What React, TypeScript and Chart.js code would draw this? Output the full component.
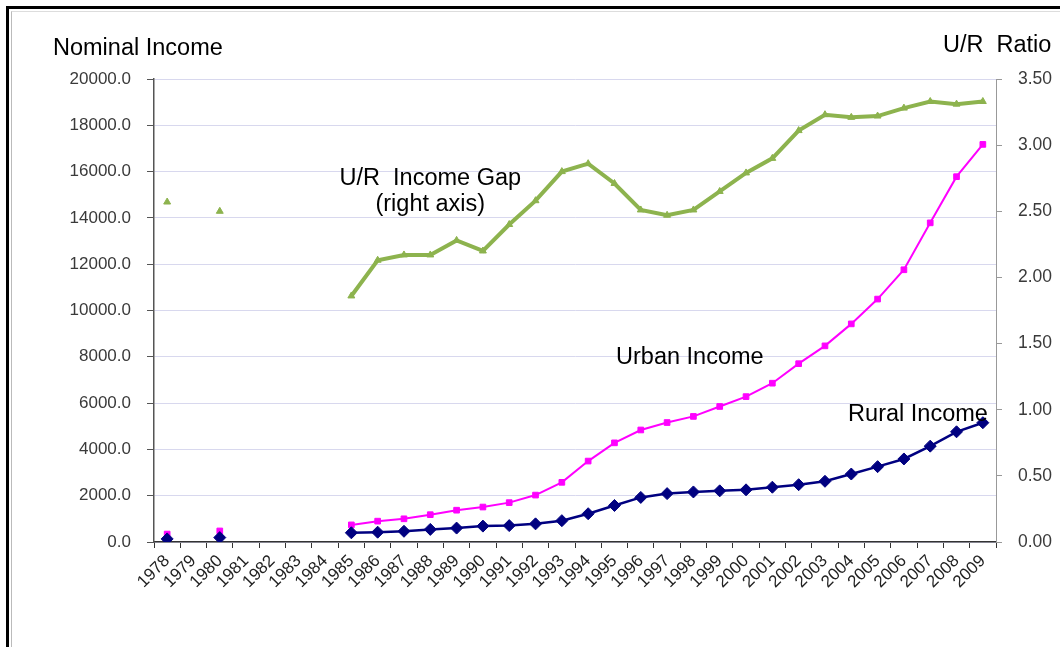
import React, { useEffect, useRef } from "react";
import { Chart, registerables } from "chart.js";

Chart.register(...registerables);

const years = [
  "1978", "1979", "1980", "1981", "1982", "1983", "1984", "1985", "1986", "1987", "1988",
  "1989", "1990", "1991", "1992", "1993", "1994", "1995", "1996", "1997", "1998", "1999",
  "2000", "2001", "2002", "2003", "2004", "2005", "2006", "2007", "2008", "2009",
];

const ruralIncome: (number | null)[] = [
  133.6, null, 191.3, null, null, null, null, 397.6, 423.8, 462.6, 544.9,
  601.5, 686.3, 708.6, 784.0, 921.6, 1221.0, 1577.7, 1926.1, 2090.1, 2162.0, 2210.3,
  2253.4, 2366.4, 2475.6, 2622.2, 2936.4, 3254.9, 3587.0, 4140.4, 4760.6, 5153.2,
];

const urbanIncome: (number | null)[] = [
  343.4, null, 477.6, null, null, null, null, 739.1, 900.9, 1002.1, 1180.2,
  1373.9, 1510.2, 1700.6, 2026.6, 2577.4, 3496.2, 4283.0, 4838.9, 5160.3, 5425.1, 5854.0,
  6280.0, 6859.6, 7702.8, 8472.2, 9421.6, 10493.0, 11759.5, 13785.8, 15780.8, 17174.7,
];

const urRatio: (number | null)[] = [
  2.57, null, 2.5, null, null, null, null, 1.86, 2.13, 2.17, 2.17,
  2.28, 2.2, 2.4, 2.58, 2.8, 2.86, 2.71, 2.51, 2.47, 2.51, 2.65,
  2.79, 2.9, 3.11, 3.23, 3.21, 3.22, 3.28, 3.33, 3.31, 3.33,
];

const leftTitle = "Nominal Income";
const rightTitle = "U/R  Ratio";

// annotation labels anchored in data space: text, category index, left-axis value, align
const annotationTexts: string[] = ["U/R  Income Gap", "(right axis)", "Urban Income", "Rural Income"];
const annotationIndex: number[] = [10, 10, 17.06, 25.88];
const annotationValue: number[] = [15420, 14300, 7690, 5230];
const annotationAlign: CanvasTextAlign[] = ["center", "center", "left", "left"];

const FONT = "'Liberation Sans', Arial, sans-serif";

export default function App() {
  const ref = useRef<HTMLCanvasElement | null>(null);

  useEffect(() => {
    if (!ref.current) return;
    const textPlugin = {
      id: "texts",
      afterDraw(chart: any) {
        const ctx = chart.ctx as CanvasRenderingContext2D;
        const xs = chart.scales.x;
        const ys = chart.scales.y;
        ctx.save();
        ctx.fillStyle = "#000";
        ctx.font = `23.5px ${FONT}`;
        ctx.textBaseline = "alphabetic";
        ctx.textAlign = "left";
        ctx.fillText(leftTitle, 53, 55);
        ctx.fillText(rightTitle, 943, 52);
        annotationTexts.forEach((t, i) => {
          ctx.textAlign = annotationAlign[i];
          ctx.fillText(t, xs.getPixelForValue(annotationIndex[i]), ys.getPixelForValue(annotationValue[i]));
        });
        ctx.restore();
      },
    };

    const chart = new Chart(ref.current, {
      type: "line",
      data: {
        labels: years,
        datasets: [
          {
            label: "Rural Income",
            data: ruralIncome,
            yAxisID: "y",
            borderColor: "#000080",
            backgroundColor: "#000080",
            borderWidth: 2.5,
            pointStyle: "rectRot",
            pointRadius: 6,
            pointBorderWidth: 1,
            spanGaps: false,
          },
          {
            label: "Urban Income",
            data: urbanIncome,
            yAxisID: "y",
            borderColor: "#ff00ff",
            backgroundColor: "#ff00ff",
            borderWidth: 2,
            pointStyle: "rect",
            pointRadius: 4,
            pointBorderWidth: 1,
            spanGaps: false,
          },
          {
            label: "U/R Income Gap",
            data: urRatio,
            yAxisID: "y1",
            borderColor: "#8db34e",
            backgroundColor: "#8db34e",
            borderWidth: 4,
            pointStyle: "triangle",
            pointRadius: 4,
            pointBorderWidth: 1,
            spanGaps: false,
          },
        ],
      },
      options: {
        responsive: false,
        animation: false,
        events: [],
        layout: { padding: { top: 79, left: 0, right: 0, bottom: 0 } },
        plugins: {
          legend: { display: false },
          tooltip: { enabled: false },
        },
        scales: {
          x: {
            type: "category",
            offset: true,
            grid: {
              offset: true,
              drawOnChartArea: false,
              drawTicks: true,
              tickLength: 6,
              tickColor: "#333",
            },
            border: { color: "#333", width: 1.5 },
            ticks: {
              autoSkip: false,
              minRotation: 45,
              maxRotation: 45,
              padding: 3,
              color: "#222",
              font: { family: FONT, size: 17 },
            },
            afterFit(scale: any) {
              scale.height = 105;
            },
          },
          y: {
            position: "left",
            min: 0,
            max: 20000,
            ticks: {
              stepSize: 2000,
              padding: 16,
              color: "#3a3a3a",
              font: { family: FONT, size: 17 },
              callback: (v: any) => Number(v).toFixed(1),
            },
            grid: {
              color: "#d8d8ee",
              tickColor: "#555",
              tickLength: 7,
              lineWidth: 1,
            },
            border: { color: "#555", width: 1.5 },
            afterFit(scale: any) {
              scale.width = 154;
            },
          },
          y1: {
            position: "right",
            min: 0,
            max: 3.5,
            ticks: {
              stepSize: 0.5,
              padding: 16,
              color: "#3a3a3a",
              font: { family: FONT, size: 17.5 },
              callback: (v: any) => Number(v).toFixed(2),
            },
            grid: {
              drawOnChartArea: false,
              tickColor: "#999",
              tickLength: 6,
            },
            border: { color: "#999", width: 1 },
            afterFit(scale: any) {
              scale.width = 64;
            },
          },
        },
      },
      plugins: [textPlugin],
    });
    return () => chart.destroy();
  }, []);

  return (
    <div style={{ position: "fixed", left: 0, top: 0, width: 1060, height: 647, background: "#fff", overflow: "hidden" }}>
      <div
        style={{
          position: "absolute",
          left: 6,
          top: 6,
          width: 1100,
          height: 700,
          borderLeft: "3px solid #000",
          borderTop: "3px solid #000",
          boxSizing: "border-box",
        }}
      />
      <div
        style={{
          position: "absolute",
          left: 11,
          top: 11,
          width: 1100,
          height: 700,
          borderLeft: "1px solid #bbb",
          borderTop: "1px solid #ddd",
          boxSizing: "border-box",
        }}
      />
      <canvas ref={ref} width={1060} height={647} style={{ position: "absolute", left: 0, top: 0 }} />
    </div>
  );
}
